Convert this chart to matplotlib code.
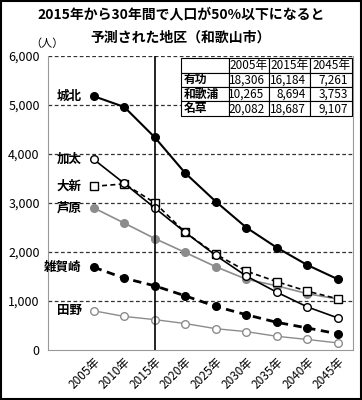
import numpy as np
import matplotlib
matplotlib.use("Agg")
import matplotlib.pyplot as plt

plt.rcParams['font.family'] = ['Noto Sans CJK JP', 'DejaVu Sans']

years = ["2005年", "2010年", "2015年", "2020年", "2025年", "2030年", "2035年", "2040年", "2045年"]

jouhoku = [5180, 4960, 4340, 3610, 3030, 2500, 2090, 1735, 1445]
kabuto = [3890, 3400, 2900, 2400, 1930, 1510, 1180, 880, 655]
ooshin = [3340, 3390, 3005, 2400, 1955, 1610, 1395, 1200, 1045]
ashihara = [2900, 2590, 2275, 1990, 1700, 1445, 1310, 1150, 1040]
saikazaki = [1690, 1465, 1310, 1105, 890, 720, 565, 450, 330]
tano = [800, 685, 620, 540, 435, 375, 280, 215, 145]

table_cols = ["", "2005年", "2015年", "2045年"]
table_rows = [["有功", "18,306", "16,184", "7,261"],
              ["和歌浦", "10,265", "8,694", "3,753"],
              ["名草", "20,082", "18,687", "9,107"]]

fig = plt.figure(figsize=(3.62, 4.0), dpi=100)
ax = fig.add_axes([48/362, 50/400, 305/362, 294/400])
x = np.arange(len(years))

ax.plot(x, jouhoku, color="black", lw=1.5, marker="o", ms=5.5, mfc="black", mec="black", zorder=5)
ax.plot(x, ooshin, color="black", lw=1.2, ls=(0, (3, 2)), marker="s", ms=5.5, mfc="white", mec="black", zorder=4)
ax.plot(x, kabuto, color="black", lw=1.2, marker="o", ms=5.5, mfc="white", mec="black", zorder=5)
ax.plot(x, ashihara, color="#8c8c8c", lw=1.2, marker="o", ms=5.5, mfc="#8c8c8c", mec="#8c8c8c", zorder=3)
ax.plot(x, saikazaki, color="black", lw=2, ls=(0, (3, 2)), marker="o", ms=5.5, mfc="black", mec="black", zorder=4)
ax.plot(x, tano, color="#8c8c8c", lw=1, marker="o", ms=5.5, mfc="white", mec="#8c8c8c", zorder=3)

labels = [("城北", jouhoku[0]), ("加太", kabuto[0]), ("大新", ooshin[0]),
          ("芦原", ashihara[0]), ("雑賀崎", saikazaki[0]), ("田野", tano[0])]
for name, v in labels:
    ax.text(-0.4, v, name, ha="right", va="center", fontsize=9, fontweight="bold")

ax.axvline(2, color="black", lw=1.2, zorder=6)

ax.set_xlim(-1.5, 8.5)
ax.set_ylim(0, 6000)
ax.set_yticks(np.arange(0, 6001, 1000))
ax.set_yticklabels(["0", "1,000", "2,000", "3,000", "4,000", "5,000", "6,000"], fontsize=9)
ax.set_xticks(x)
ax.set_xticklabels(years, rotation=45, ha="right", rotation_mode="anchor", fontsize=8.5)
ax.tick_params(length=0, pad=6)
ax.tick_params(axis="x", pad=4)
for yv in range(1000, 6001, 1000):
    ax.axhline(yv, color="#333333", lw=0.9, ls=(0, (3, 2)), zorder=1)
for s in ["left", "right", "bottom"]:
    ax.spines[s].set_color("#999999")
ax.spines["top"].set_visible(False)

fig.text(47/362, 1 - 44/400, "（人）", fontsize=8, ha="center", va="center")

tb = ax.table(cellText=table_rows, colLabels=table_cols,
              colWidths=[48, 40, 42, 42],
              cellLoc="right", bbox=[0.436, 0.796, 0.561, 0.197], zorder=10)
tb.auto_set_font_size(False)
tb.set_fontsize(8.5)
for (r, c), cell in tb.get_celld().items():
    cell.set_linewidth(0.8)
    cell.set_edgecolor("black")
    cell.set_facecolor("white")
    if c == 0:
        cell.get_text().set_ha("left")
        cell.get_text().set_fontweight("bold")
        cell.PAD = 0.05

fig.text(0.5, 0.965, "2015年から30年間で人口が50%以下になると", ha="center", va="center",
         fontsize=10, fontweight="bold")
fig.text(0.5, 0.907, "予測された地区（和歌山市）", ha="center", va="center",
         fontsize=10, fontweight="bold")

fig.patches.append(plt.Rectangle((0.002, 0.002), 0.996, 0.996, transform=fig.transFigure,
                                 fill=False, edgecolor="black", lw=1.5))

fig.savefig("out.png", dpi=100)
